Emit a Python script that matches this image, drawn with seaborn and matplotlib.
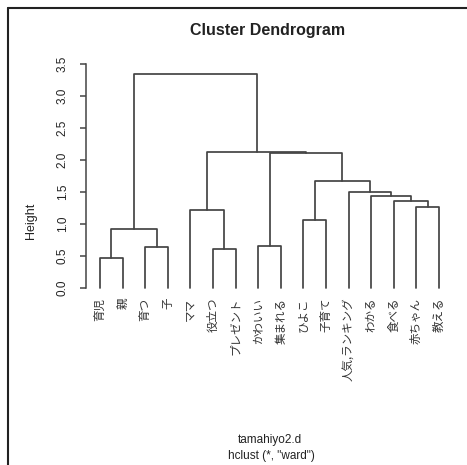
import pandas as pd
import matplotlib
matplotlib.use('Agg')
import matplotlib.pyplot as plt
from matplotlib.lines import Line2D
import seaborn as sns

# leaves in dendrogram order
leaves = ['育児', '親', '育つ', '子', 'ママ', '役立つ', 'プレゼント', 'かわいい',
          '集まれる', 'ひよこ', '子育て', '人気,ランキング', 'わかる', '食べる',
          '赤ちゃん', '教える']

# merges, R style: negative = leaf number, positive = earlier merge number
merge_left = [-1, -3, -6, -8, -15, -10, 1, -5, -14, -13, -12, 6, 4, 8, 7]
merge_right = [-2, -4, -7, -9, -16, -11, 2, 3, 5, 9, 10, 11, 12, 13, 14]
merge_height = [0.47, 0.64, 0.60, 0.65, 1.27, 1.06, 0.92, 1.22, 1.36, 1.43,
                1.50, 1.67, 2.11, 2.13, 3.34]

yticks = [0.0, 0.5, 1.0, 1.5, 2.0, 2.5, 3.0, 3.5]

# build segments
node_x = []
rows = []


def child(c):
    if c < 0:
        return -c, 0.0
    return node_x[c - 1], merge_height[c - 1]


for k, (a, b, h) in enumerate(zip(merge_left, merge_right, merge_height)):
    xa, ha = child(a)
    xb, hb = child(b)
    rows += [(k, xa, ha, 0), (k, xa, h, 1), (k, xb, h, 2), (k, xb, hb, 3)]
    node_x.append((xa + xb) / 2)

seg = pd.DataFrame(rows, columns=['seg', 'x', 'y', 'order'])

sns.set_style('white')
plt.rcParams['font.family'] = ['Liberation Sans', 'DejaVu Sans']

W, H = 467, 465
fig = plt.figure(figsize=(W / 100, H / 100), dpi=100)
ax = fig.add_axes([86 / W, 1 - 294.1 / H, (453 - 86) / W, (294.1 - 57.6) / H])

sns.lineplot(data=seg, x='x', y='y', units='seg', estimator=None, sort=False,
             color='#444444', linewidth=1.25, ax=ax, legend=False)

ax.set_xlim(0.38, 16.62)
ax.set_ylim(-0.1, 3.6)
for s in ['top', 'right', 'bottom']:
    ax.spines[s].set_visible(False)
ax.spines['left'].set_bounds(0, 3.5)
ax.spines['left'].set_color('#444444')
ax.spines['left'].set_linewidth(1.1)

ax.set_yticks(yticks)
ax.set_yticklabels([f'{t:.1f}' for t in yticks], rotation=90, va='center',
                   fontsize=8.5, color='#222222')
ax.tick_params(axis='y', length=4.5, width=1.1, color='#444444', pad=8, left=True)

ax.set_xticks(range(1, len(leaves) + 1))
ax.set_xticklabels(leaves, rotation=90, va='top', ha='center', fontsize=8.3,
                   family=['Noto Sans CJK JP', 'DejaVu Sans'], color='#333333')
ax.tick_params(axis='x', length=0, pad=2.5)

ax.set_xlabel('')
ax.set_ylabel('Height', fontsize=9, color='#222222')
ax.yaxis.set_label_coords(-(86 - 37) / 367, (294.1 - 221) / (294.1 - 57.6))

fig.text(268 / W, 1 - 31 / H, 'Cluster Dendrogram', ha='center', va='center',
         fontsize=11.5, fontweight='bold', color='#222222')
fig.text(270 / W, 1 - 440 / H, 'tamahiyo2.d', ha='center', va='center',
         fontsize=8.5, color='#222222')
fig.text(271 / W, 1 - 456 / H, 'hclust (*, "ward")', ha='center', va='center',
         fontsize=8.5, color='#222222')

# outer frame (left and top edges)
fig.add_artist(Line2D([8 / W, 8 / W], [0, 1 - 8 / H], color='#222222', lw=1.5,
                      transform=fig.transFigure))
fig.add_artist(Line2D([8 / W, 1], [1 - 8 / H, 1 - 8 / H], color='#222222', lw=1.5,
                      transform=fig.transFigure))

fig.savefig('out.png', dpi=100)
